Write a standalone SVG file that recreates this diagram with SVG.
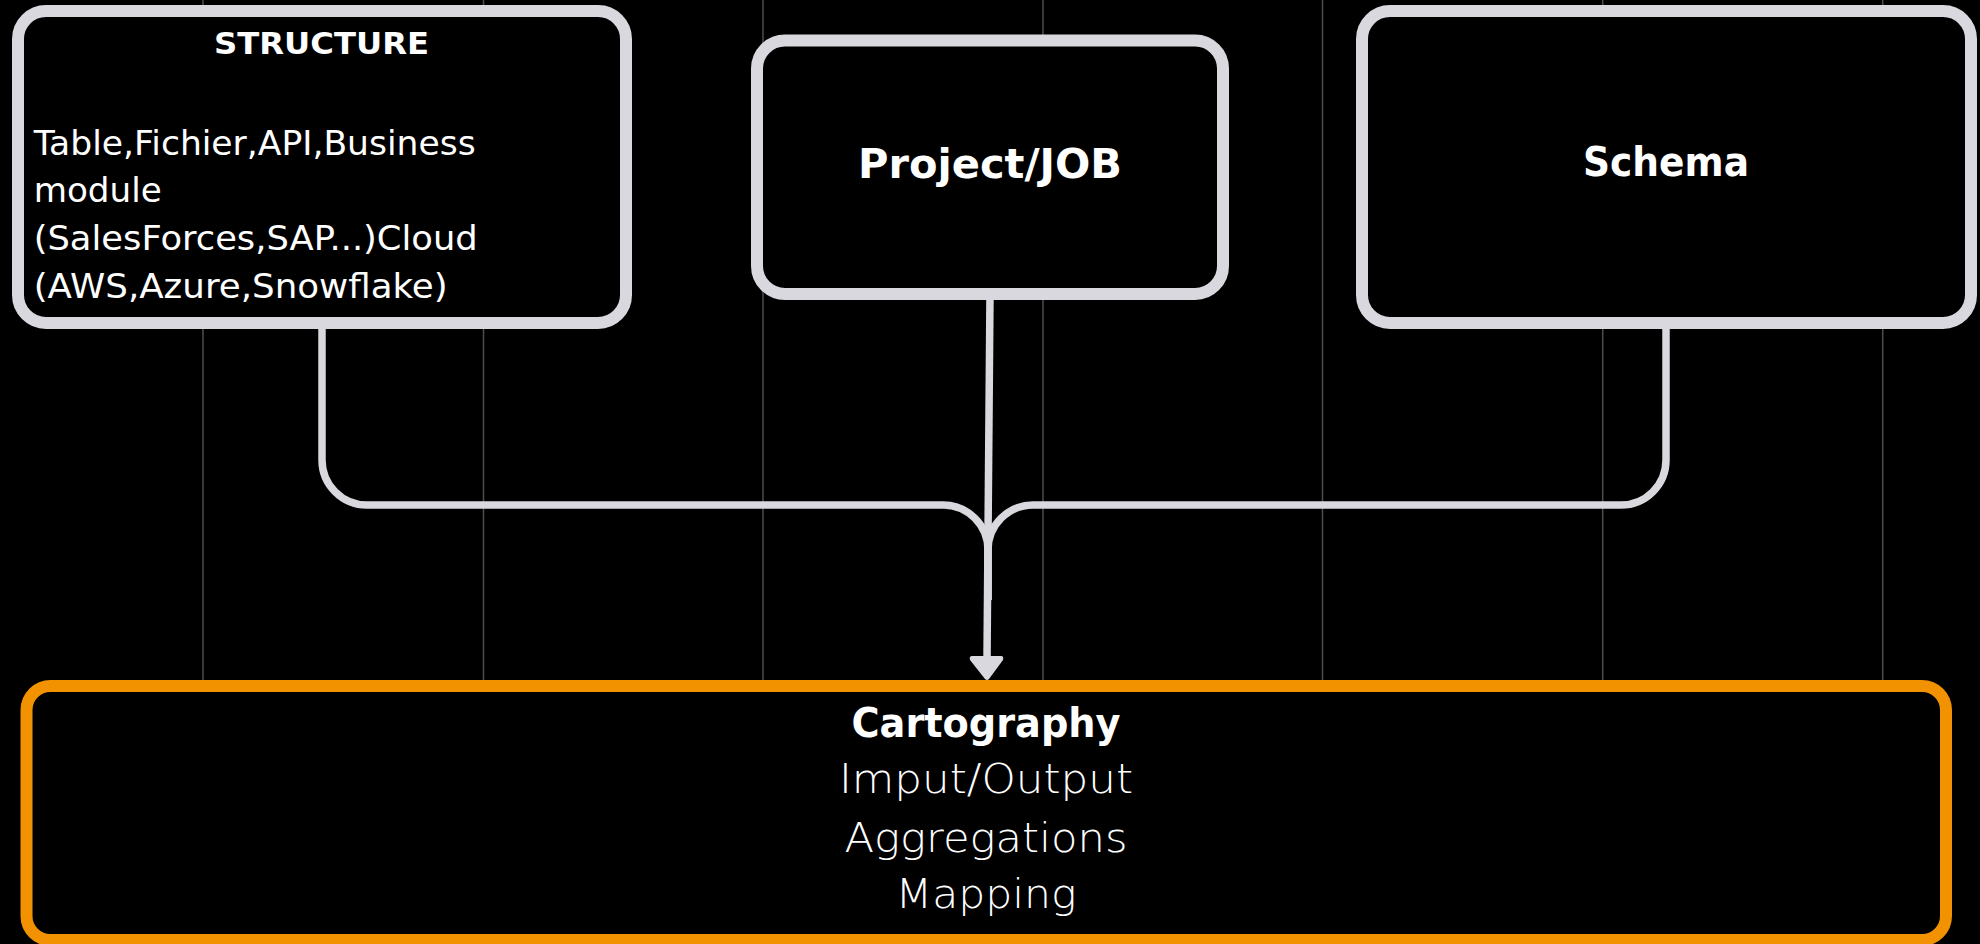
<svg xmlns="http://www.w3.org/2000/svg" width="1980" height="944" viewBox="0 0 1980 944">
<style>
.grid{stroke:#4d4d4d;stroke-width:1.5}
.box{fill:#000;stroke:#d9d8de;stroke-width:12}
.main{fill:#000;stroke:#f29200;stroke-width:12}
.conn{fill:none;stroke:#d9d8de;stroke-width:7.5}
text{fill:#fff;font-family:"DejaVu Sans","Liberation Sans",sans-serif}
.t{font-weight:bold;text-anchor:middle}
.b{font-size:33px}
.l{font-size:40px;font-weight:200;text-anchor:middle}
</style>
<defs>
<marker id="arr" markerUnits="userSpaceOnUse" markerWidth="36" markerHeight="28" refX="32" refY="14" orient="auto">
<path d="M4,4 Q2,2 4,0.5 L30,13 Q32,14 30,15 L4,27.5 Q2,26 4,24 Z" fill="#d9d8de" transform="translate(0,0)"/>
</marker>
</defs>
<rect width="1980" height="944" fill="#000"/>
<g id="grid">
<line class="grid" x1="203" y1="0" x2="203" y2="686"/>
<line class="grid" x1="483.5" y1="0" x2="483.5" y2="686"/>
<line class="grid" x1="763" y1="0" x2="763" y2="686"/>
<line class="grid" x1="1043" y1="0" x2="1043" y2="686"/>
<line class="grid" x1="1322.5" y1="0" x2="1322.5" y2="686"/>
<line class="grid" x1="1602.7" y1="0" x2="1602.7" y2="686"/>
<line class="grid" x1="1882.7" y1="0" x2="1882.7" y2="686"/>
</g>
<g id="connectors">
<path class="conn" d="M322,323 V460 A45,45 0 0 0 367,505 H943 A45,45 0 0 1 988,550 V600"/>
<path class="conn" d="M1666,323 V460 A45,45 0 0 1 1621,505 H1033 A45,45 0 0 0 988,550 V600"/>
<path class="conn" d="M990,294 L987,660"/>
<path d="M972,656 Q969,656 970,660 L985,679 Q987,681 989,679 L1003,660 Q1004,656 1001,656 Z" fill="#d9d8de"/>
</g>
<g id="structure">
<rect class="box" x="18" y="11" width="608" height="312" rx="28"/>
<text class="t" x="321.5" y="54" font-size="30" textLength="215" lengthAdjust="spacingAndGlyphs">STRUCTURE</text>
<text class="b" x="33.7" y="155" textLength="442" lengthAdjust="spacingAndGlyphs">Table,Fichier,API,Business</text>
<text class="b" x="33.7" y="202" textLength="128" lengthAdjust="spacingAndGlyphs">module</text>
<text class="b" x="33.7" y="250" textLength="444" lengthAdjust="spacingAndGlyphs">(SalesForces,SAP...)Cloud</text>
<text class="b" x="33.7" y="298" textLength="414" lengthAdjust="spacingAndGlyphs">(AWS,Azure,Snowflake)</text>
</g>
<g id="project">
<rect class="box" x="757" y="40.5" width="466" height="253.5" rx="28"/>
<text class="t" x="990" y="178" font-size="40" textLength="264" lengthAdjust="spacingAndGlyphs">Project/JOB</text>
</g>
<g id="schema">
<rect class="box" x="1362" y="11" width="609" height="312" rx="28"/>
<text class="t" x="1666" y="176" font-size="40" textLength="166" lengthAdjust="spacingAndGlyphs">Schema</text>
</g>
<g id="cartography">
<rect class="main" x="26.5" y="686" width="1919.5" height="254" rx="24"/>
<text class="t" x="986" y="737" font-size="40" textLength="269" lengthAdjust="spacingAndGlyphs">Cartography</text>
<text class="l" x="986" y="793" textLength="294" lengthAdjust="spacingAndGlyphs">Imput/Output</text>
<text class="l" x="986" y="852" textLength="283" lengthAdjust="spacingAndGlyphs">Aggregations</text>
<text class="l" x="986" y="908" textLength="181" lengthAdjust="spacingAndGlyphs">Mapping</text>
</g>
</svg>
